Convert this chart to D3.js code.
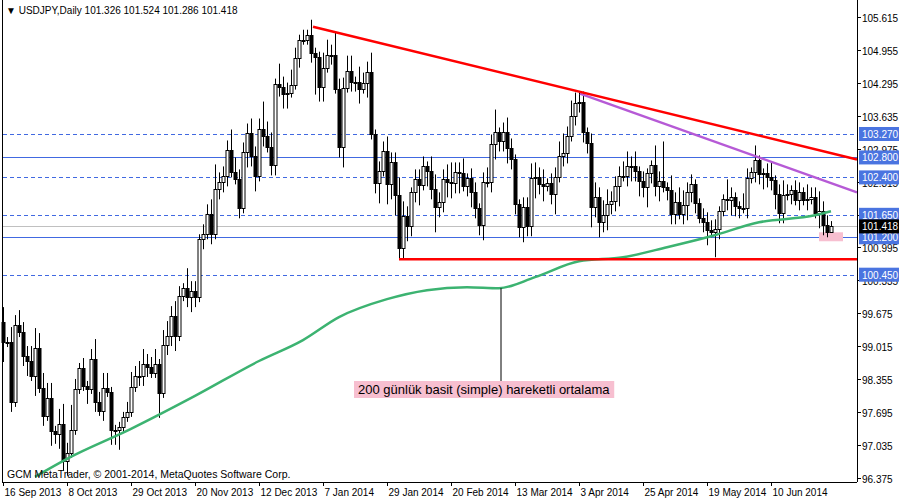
<!DOCTYPE html>
<html><head><meta charset="utf-8">
<script src="https://cdn.jsdelivr.net/npm/d3@7"></script>
<style>body{margin:0;background:#fff}svg{display:block}text{font-family:"Liberation Sans",Arial,sans-serif}</style>
</head><body><svg id="c" width="900" height="500"></svg>
<script>
const closes=[99.10,99.10,97.90,99.44,99.30,98.82,98.72,98.42,98.98,98.18,97.62,97.98,97.32,97.26,97.46,96.72,96.88,97.34,98.16,98.58,98.22,98.16,98.76,97.90,97.72,98.18,98.10,97.34,97.34,97.40,97.60,97.70,98.20,98.42,98.42,98.66,98.60,98.48,98.66,98.08,99.04,99.22,99.62,99.22,100.02,100.18,100.00,100.12,100.00,101.16,101.26,101.66,101.26,102.16,102.30,102.42,102.94,102.50,102.36,101.78,102.90,103.28,102.82,102.42,103.38,103.22,103.00,102.64,104.28,104.22,104.08,104.10,104.26,104.80,105.16,105.16,105.26,104.90,104.82,104.22,104.60,104.86,104.86,104.18,103.00,104.20,104.54,104.32,104.32,104.18,104.30,104.52,103.26,102.28,102.52,102.92,102.26,102.70,102.04,100.98,101.62,101.42,102.10,102.36,102.24,102.62,102.52,102.16,101.80,101.90,102.36,102.30,102.28,102.50,102.48,102.22,102.38,102.10,101.78,101.44,102.30,102.30,103.06,103.30,103.12,103.30,102.98,102.76,101.86,101.40,101.80,101.42,102.38,102.40,102.26,102.22,102.28,102.06,102.40,102.82,102.88,103.22,103.64,103.90,103.92,103.30,103.08,101.80,102.00,101.50,101.64,101.86,101.92,102.22,102.42,102.42,102.62,102.62,102.52,102.32,102.20,102.48,102.64,102.22,102.32,102.20,102.14,101.66,101.90,101.66,101.84,102.10,102.26,101.88,101.58,101.50,101.34,101.30,101.36,101.72,101.96,101.94,102.00,101.82,101.78,101.78,102.38,102.50,102.74,102.46,102.48,102.40,102.34,102.06,101.68,102.04,102.06,102.14,101.94,102.10,101.94,101.96,102.00,101.68,101.72,101.44,101.30,101.418];
const firstOpen=99.50;
const wickUp=[
.3,.1,.3,.2,.3,.2,.2,.3,.4,.3,
.3,.3,.3,.1,.3,.4,.2,.5,.2,.1,
.2,.1,.2,.4,.2,.3,.3,.1,.1,.1,
.1,.2,.3,.2,.3,.3,.2,.2,.3,.1,
.3,.3,.2,.3,.2,.1,.4,.2,.2,.1,
.2,.2,.3,.5,.2,.2,.2,.42,.3,.2,
.2,.2,.3,.2,.2,.54,.3,.3,.1,.4,
.2,.2,.3,.2,.1,.2,.1,.3,.1,.1,
.3,.3,.2,.46,.2,.2,.3,.3,.1,.3,
.2,.2,.38,.1,.2,.2,.3,.2,.2,.36,
.3,.2,.1,.2,.2,.2,.1,.3,.3,.2,
.2,.3,.4,.2,.2,.3,.1,.2,.2,.1,
.2,.3,.2,.46,.1,.2,.3,.2,.1,.1,
.2,.2,.3,.3,.2,.3,.1,.2,.2,.3,
.4,.2,.3,.2,.2,.2,.1,.2,.3,.2,
.3,.3,.2,.2,.2,.3,.3,.2,.3,.1,
.2,.1,.1,.4,.2,.8,.1,.3,.2,.3,
.3,.2,.2,.1,.1,.2,.2,.2,.2,.1,
.1,.4,.2,.1,.1,.3,.2,.1,.3,.1,
.1,.2,.3,.1,.2,.3,.2,.1,.2,.2,
.1,.3,.2,.2,.4,.2,.2,.106];
const wickDn=[
.4,.1,.2,.1,.1,.2,.3,.1,.4,.1,
.2,.1,.3,.2,.3,.2,.3,.1,.1,.1,
.1,.3,.1,.2,.1,.2,.1,.3,.3,.4,
.1,.1,.1,.1,.2,.2,.2,.1,.1,.5,
.1,.2,.2,.3,.1,.1,.2,.3,.2,.1,
.2,.1,.2,.1,.2,.2,.2,.1,.1,.2,
.1,.3,.2,.3,.1,.2,.1,.2,.2,.2,
.3,.3,.1,.1,.2,.1,.1,.2,.76,.3,
.3,.1,.2,.1,.2,.4,.1,.2,.2,.3,
.1,.3,.1,.2,.4,.1,.4,.3,.4,.22,
.2,.3,.2,.2,.4,.1,.3,.2,.5,.2,
.2,.3,.3,.2,.4,.1,.2,.3,.2,.2,
.3,.1,.2,.3,.2,.2,.3,.2,.2,.2,
.3,.2,.2,.4,.2,.3,.1,.2,.4,.1,
.2,.2,.1,.2,.2,.2,.2,.4,.2,.3,
.2,.3,.2,.2,.4,.1,.2,.3,.2,.3,
.2,.4,.2,.2,.3,.1,.2,.2,.2,.1,
.2,.3,.2,.2,.1,.2,.3,.1,.5,.2,
.1,.2,.3,.2,.2,.1,.2,.1,.2,.2,
.3,.2,.2,.3,.2,.2,.1,.2,.1,.2,
.1,.2,.1,.1,.3,.2,.1,.014];
const maBars=[8,16,32,48,64,75,84,96,106,116,124,133,144,155,166,177,189,203,207];
const maValues=[96.40,96.76,97.36,98.02,98.72,99.14,99.60,99.96,100.14,100.20,100.18,100.40,100.72,100.80,101.00,101.22,101.50,101.64,101.72];
const dateLabels=["16 Sep 2013","8 Oct 2013","29 Oct 2013","20 Nov 2013","12 Dec 2013","7 Jan 2014","29 Jan 2014","20 Feb 2014","13 Mar 2014","3 Apr 2014","25 Apr 2014","19 May 2014","10 Jun 2014"];
const priceTicks=[105.615,104.955,104.295,103.635,102.975,102.315,101.655,100.995,100.335,99.675,99.015,98.355,97.695,97.035,96.375];
const dashedLevels=[103.270,102.400,101.650,100.450];
const solidLevels=[102.800,101.200];
const lastPrice=101.418;
const redTrend=[[77.5,105.42],[213.5,102.76]];
const purpleTrend=[[144.25,104.08],[213.5,102.10]];
const supportLevel=100.76, supportFrom=99;
const noteText="200 günlük basit (simple) hareketli ortalama";

const svg=d3.select("#c");
const x=d3.scaleLinear().domain([0,213.5]).range([3,857]);
const y=d3.scaleLinear().domain([96.375,105.615]).range([478,17]);
const W=857,B=482;

svg.append("line").attr("x1",3).attr("x2",W).attr("y1",Math.round(y(lastPrice))+.5).attr("y2",Math.round(y(lastPrice))+.5).attr("stroke","#c0c0c0");
dashedLevels.forEach(v=>svg.append("line").attr("x1",3).attr("x2",W).attr("y1",Math.round(y(v))+.5).attr("y2",Math.round(y(v))+.5).attr("stroke","#4169e1").attr("stroke-dasharray","4,3"));
solidLevels.forEach(v=>svg.append("line").attr("x1",3).attr("x2",W).attr("y1",Math.round(y(v))+.5).attr("y2",Math.round(y(v))+.5).attr("stroke","#4169e1"));

svg.append("rect").attr("x",x(205)-4).attr("y",y(101.30)).attr("width",x(211)-x(205)).attr("height",y(101.12)-y(101.30)).attr("fill","#f7bfd0");

const g=svg.append("g");
closes.forEach((c,i)=>{
  const o=i?closes[i-1]:firstOpen;
  const hi=Math.max(o,c)+(wickUp[i]??0.1), lo=Math.min(o,c)-(wickDn[i]??0.1);
  const cx=Math.round(x(i))+.5;
  g.append("line").attr("x1",cx).attr("x2",cx).attr("y1",y(hi)).attr("y2",Math.min(y(lo),B)).attr("stroke","#000");
  const top=Math.round(y(Math.max(o,c))), bot=Math.round(y(Math.min(o,c)));
  g.append("rect").attr("x",cx-1.5).attr("y",top+.5).attr("width",3).attr("height",Math.max(bot-top,1))
   .attr("fill",c>=o?"#fff":"#000").attr("stroke","#000");
});

svg.append("path").datum(maBars.map((b,i)=>[b,maValues[i]])).attr("fill","none").attr("stroke","#3cb371").attr("stroke-width",2.5)
 .attr("d",d3.line().x(d=>x(d[0])).y(d=>y(d[1])).curve(d3.curveMonotoneX));

const tl=(p,col)=>svg.append("line").attr("x1",x(p[0][0])).attr("y1",y(p[0][1])).attr("x2",x(p[1][0])).attr("y2",y(p[1][1])).attr("stroke",col).attr("stroke-width",2.5);
tl(purpleTrend,"#b65ad6");
tl(redTrend,"#ff0000");
svg.append("line").attr("x1",x(supportFrom)).attr("x2",W).attr("y1",y(supportLevel)).attr("y2",y(supportLevel)).attr("stroke","#ff0000").attr("stroke-width",2.5);

svg.append("rect").attr("x",0).attr("y",B).attr("width",900).attr("height",18).attr("fill","#fff");
svg.append("rect").attr("x",W+1).attr("y",0).attr("width",43).attr("height",500).attr("fill","#fff");

const ax=x(124.5);
svg.append("line").attr("x1",ax).attr("x2",ax).attr("y1",y(maValues[10])).attr("y2",381).attr("stroke","#000");
const nt=svg.append("text").attr("x",358).attr("y",394).attr("font-size",13).attr("fill","#000").text(noteText);
const bb=nt.node().getBBox();
svg.insert("rect","text").attr("x",bb.x-4).attr("y",381).attr("width",bb.width+8).attr("height",17).attr("fill","#f7bfd0");

svg.append("line").attr("x1",2.5).attr("x2",2.5).attr("y1",0).attr("y2",B).attr("stroke","#000");
svg.append("line").attr("x1",2).attr("x2",W).attr("y1",B+.5).attr("y2",B+.5).attr("stroke","#000");
svg.append("line").attr("x1",W+.5).attr("x2",W+.5).attr("y1",0).attr("y2",B).attr("stroke","#000");

priceTicks.forEach(v=>{
  const py=Math.round(y(v))+.5;
  svg.append("line").attr("x1",W).attr("x2",W+4).attr("y1",py).attr("y2",py).attr("stroke","#000");
  svg.append("text").attr("x",862).attr("y",py+4).attr("font-size",10).text(v.toFixed(3));
});
const lab=(v,fill)=>{const py=y(v);
  svg.append("rect").attr("x",859).attr("y",py-7).attr("width",40).attr("height",14).attr("fill",fill);
  svg.append("text").attr("x",862).attr("y",py+4).attr("font-size",10).attr("fill","#fff").text(v.toFixed(3));};
[...dashedLevels,...solidLevels].forEach(v=>lab(v,"#4a74e0"));
lab(lastPrice,"#000");

dateLabels.forEach((t,i)=>{
  const dx=Math.round(x(i*16))+.5;
  svg.append("line").attr("x1",dx).attr("x2",dx).attr("y1",B).attr("y2",B+4).attr("stroke","#000");
  svg.append("text").attr("x",dx+1).attr("y",496).attr("font-size",10).text(t);
});

svg.append("text").attr("x",6).attr("y",14).attr("font-size",10).text("▼ USDJPY,Daily  101.326 101.524 101.286 101.418");
svg.append("text").attr("x",7).attr("y",478).attr("font-size",10.5).text("GCM MetaTrader, © 2001-2014, MetaQuotes Software Corp.");
</script></body></html>
